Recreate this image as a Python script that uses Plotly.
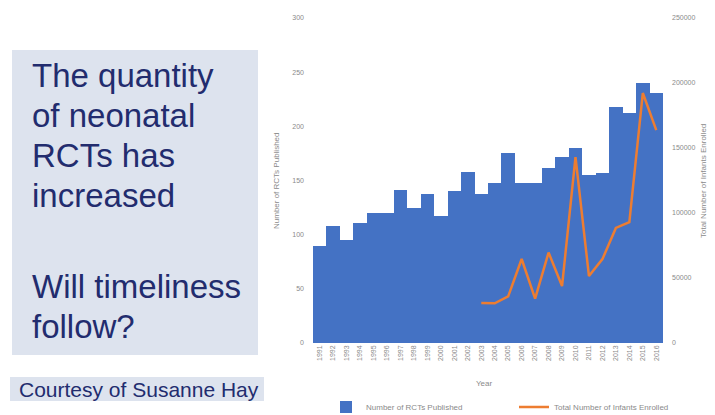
import plotly.graph_objects as go

W, H = 715, 415

years = [str(y) for y in range(1991, 2017)]
rcts_published = [90, 108, 95, 111, 120, 120, 141, 125, 138, 117, 140, 158, 138,
                  148, 175, 148, 148, 162, 172, 180, 155, 157, 218, 212, 240, 231]
enrolled_years = [str(y) for y in range(2003, 2017)]
infants_enrolled = [30800, 30500, 35800, 64600, 34200, 69600, 43800, 143000,
                    51500, 64500, 88500, 93000, 192300, 163800]

BAR_BLUE = "#4472C4"
LINE_ORANGE = "#ED7D31"
TICK_GREY = "#8a8a8a"
NAVY = "#222c6e"
PANEL = "#dde3ee"

# plot rectangle in pixels
PX_L, PX_R, PX_T, PX_B = 313, 663, 18, 343


def px(x):
    return x / W


def py(y):
    return 1 - y / H


fig = go.Figure()
fig.add_trace(go.Bar(
    x=years, y=rcts_published, name="Number of RCTs Published",
    marker=dict(color=BAR_BLUE, line=dict(width=0)),
))
fig.add_trace(go.Scatter(
    x=enrolled_years, y=infants_enrolled, name="Total Number of Infants Enrolled",
    mode="lines", line=dict(color=LINE_ORANGE, width=2.5), yaxis="y2",
))

tick_font = dict(family="Liberation Sans, Arial, sans-serif", size=7, color=TICK_GREY)

fig.update_layout(
    width=W, height=H,
    margin=dict(l=0, r=0, t=0, b=0, autoexpand=False),
    paper_bgcolor="white", plot_bgcolor="white",
    bargap=0,
    showlegend=True,
    legend=dict(
        orientation="h", x=px(326), y=py(407), xanchor="left", yanchor="middle",
        font=dict(family="Liberation Sans, Arial, sans-serif", size=8, color=TICK_GREY),
        entrywidth=143, entrywidthmode="pixels", itemwidth=30,
        bgcolor="rgba(0,0,0,0)",
    ),
    xaxis=dict(
        domain=[px(PX_L), px(PX_R)], type="category", automargin=False,
        tickangle=-90, tickfont=tick_font, showgrid=False, zeroline=False,
        showline=False, ticks="",
    ),
    yaxis=dict(
        domain=[py(PX_B), py(PX_T)], range=[0, 300], dtick=50, automargin=False,
        tickfont=tick_font, showgrid=False, zeroline=False, showline=False,
        ticks="", ticklabelstandoff=8,
    ),
    yaxis2=dict(
        overlaying="y", side="right", range=[0, 250000], dtick=50000,
        automargin=False, tickformat="d", tickfont=tick_font, showgrid=False,
        zeroline=False, showline=False, ticks="", ticklabelstandoff=8,
    ),
)

axis_title_font = dict(family="Liberation Sans, Arial, sans-serif", size=8, color=TICK_GREY)
annotations = [
    dict(text="Number of RCTs Published", x=px(276), y=py(181), textangle=-90,
         font=axis_title_font),
    dict(text="Total Number of Infants Enrolled", x=px(703), y=py(181), textangle=-90,
         font=axis_title_font),
    dict(text="Year", x=px(484), y=py(383), font=axis_title_font),
]

headline_font = dict(family="Liberation Sans, Arial, sans-serif", size=33, color=NAVY)
headline_lines = [
    ("The quantity", 75), ("of neonatal", 115), ("RCTs has", 155),
    ("increased", 196), ("Will timeliness", 286), ("follow?", 326),
]
for txt, yc in headline_lines:
    annotations.append(dict(text=txt, x=px(30), y=py(yc), xanchor="left",
                            yanchor="middle", font=headline_font))
annotations.append(dict(
    text="Courtesy of Susanne Hay", x=px(17), y=py(389), xanchor="left", yanchor="middle",
    font=dict(family="Liberation Sans, Arial, sans-serif", size=21, color=NAVY),
))

for a in annotations:
    a.update(xref="paper", yref="paper", showarrow=False)
    a.setdefault("xanchor", "center")
    a.setdefault("yanchor", "middle")

fig.update_layout(
    annotations=annotations,
    shapes=[
        dict(type="rect", xref="paper", yref="paper", x0=px(12), x1=px(258),
             y0=py(355), y1=py(50), fillcolor=PANEL, line=dict(width=0), layer="below"),
        dict(type="rect", xref="paper", yref="paper", x0=px(10), x1=px(264),
             y0=py(401), y1=py(377), fillcolor=PANEL, line=dict(width=0), layer="below"),
    ],
)

fig.write_html("out.html")
